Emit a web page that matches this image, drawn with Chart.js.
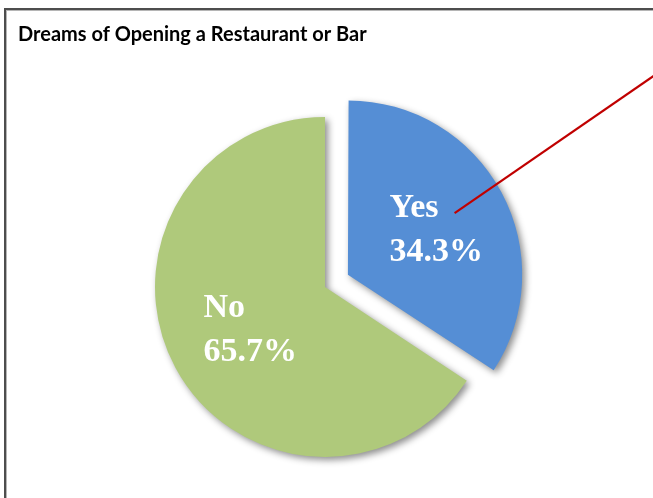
<!DOCTYPE html>
<html>
<head>
<meta charset="utf-8">
<script src="https://cdn.jsdelivr.net/npm/chart.js@4.4.1/dist/chart.umd.min.js"></script>
<style>
  html, body { margin: 0; padding: 0; background: #ffffff; overflow: hidden; }
  #frame {
    position: absolute; left: 4px; top: 8px; width: 720px; height: 600px;
    border-left: 2px solid #4d4d4d; border-top: 2px solid #4d4d4d;
    box-shadow: inset 1px 1px 0 #b5b5b5;
  }
  #c { position: absolute; left: 0; top: 0; }
</style>
</head>
<body>
<div id="frame"></div>
<canvas id="c" width="653" height="498"></canvas>
<script>
// ---- data ----
const chartTitle = 'Dreams of Opening a Restaurant or Bar';
const categories = ['Yes', 'No'];
const shares = [34.3, 65.7];

// ---- plugins ----
const shadowPlugin = {
  id: 'sliceShadow',
  beforeDatasetsDraw(chart) {
    const c = chart.ctx;
    c.save();
    c.shadowColor = 'rgba(0,0,0,0.45)';
    c.shadowBlur = 7;
    c.shadowOffsetX = 3;
    c.shadowOffsetY = 3;
  },
  afterDatasetsDraw(chart) {
    chart.ctx.restore();
  }
};

const labelPlugin = {
  id: 'sliceLabels',
  afterDraw(chart) {
    const c = chart.ctx;
    const meta = chart.getDatasetMeta(0);
    const factors = [0.59, 0.5];
    c.save();
    c.font = 'bold 34px "Liberation Serif", "Times New Roman", serif';
    c.fillStyle = '#ffffff';
    c.textAlign = 'left';
    c.textBaseline = 'alphabetic';
    meta.data.forEach((arc, i) => {
      const p = arc.getProps(['x', 'y', 'startAngle', 'endAngle', 'outerRadius'], true);
      const mid = (p.startAngle + p.endAngle) / 2;
      const shift = (arc.options.offset || 0) / 4;
      const d = shift + factors[i] * 170;
      const cx = p.x + Math.cos(mid) * d;
      const cy = p.y + Math.sin(mid) * d;
      const l1 = categories[i];
      const l2 = shares[i].toFixed(1) + '%';
      const w = Math.max(c.measureText(l1).width, c.measureText(l2).width);
      const left = cx - w / 2;
      c.fillText(l1, left, cy - 10);
      c.fillText(l2, left, cy + 34);
      if (i === 0) {
        // red callout line starting just right of the "Yes" word
        const sx = left + c.measureText(l1).width + 16;
        const sy = cy - 14;
        c.strokeStyle = '#c00000';
        c.lineWidth = 2.2;
        c.beginPath();
        c.moveTo(sx, sy);
        c.lineTo(sx + 210, sy - 210 * 0.69);
        c.stroke();
      }
    });
    c.restore();
  }
};

new Chart(document.getElementById('c'), {
  type: 'pie',
  data: {
    labels: categories,
    datasets: [{
      data: shares,
      backgroundColor: ['#558ed5', '#afc97b'],
      borderWidth: 0,
      offset: [104, 0],
      radius: 170
    }]
  },
  options: {
    responsive: false,
    devicePixelRatio: 1,
    animation: false,
    layout: { padding: { top: 0, left: 18, right: 21, bottom: 28 } },
    plugins: {
      legend: { display: false },
      tooltip: { enabled: false },
      title: {
        display: true,
        text: chartTitle,
        align: 'start',
        color: '#000000',
        font: { family: 'Lato', weight: 'bold', size: 20 },
        padding: { top: 22.5, bottom: 57.5 }
      }
    }
  },
  plugins: [shadowPlugin, labelPlugin]
});
</script>
</body>
</html>
